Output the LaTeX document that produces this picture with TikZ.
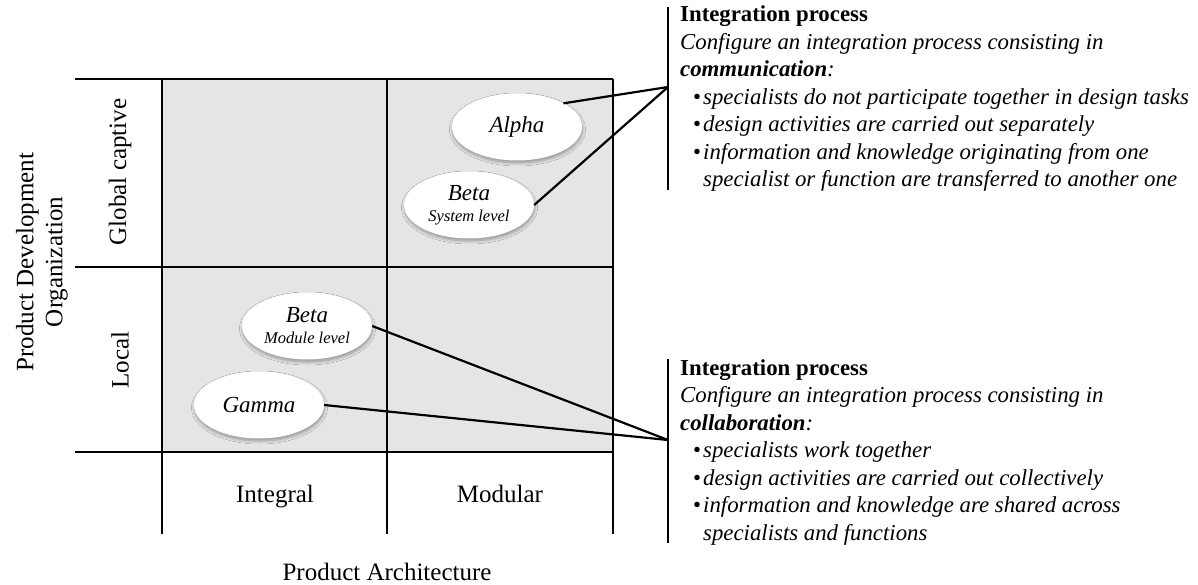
\documentclass[tikz,border=0pt]{standalone}
\usepackage{fontspec}
\setmainfont{Liberation Serif}
\usetikzlibrary{shapes.geometric,shadows.blur}
\definecolor{cellgray}{RGB}{229,229,229}
\newcommand\notefont{\fontsize{22.8}{27.5}\selectfont}
\newcommand\bul{\makebox[10pt][l]{\upshape\textbullet}}
\newcommand\sublabel{\fontsize{16.5}{18}\selectfont}
\begin{document}
\begin{tikzpicture}[x=1pt,y=-1pt,
  gridline/.style={line width=1.4pt},
  axislabel/.style={font=\fontsize{25}{29}\selectfont, inner sep=0},
  blob/.style={ellipse, fill=white, minimum width=130pt, minimum height=67pt,
    inner sep=0, align=center, font=\fontsize{23}{21}\selectfont\itshape,
    blur shadow={shadow xshift=0.5pt, shadow yshift=-2.5pt, shadow blur radius=3pt,
      shadow blur steps=8, shadow opacity=35}},
  link/.style={line width=2.2pt},
  bar/.style={line width=2.4pt},
  note/.style={anchor=base west, inner sep=0, font=\notefont\itshape},
  head/.style={anchor=base west, inner sep=0, font=\notefont\bfseries}]
\useasboundingbox (0,0) rectangle (1198,585);

% shaded 2x2 matrix
\fill[cellgray] (162,79) rectangle (613,452);
\draw[gridline] (75,79) -- (613,79);
\draw[gridline] (75,267) -- (613,267);
\draw[gridline] (75,452) -- (613,452);
\draw[gridline] (162,79) -- (162,534);
\draw[gridline] (387,79) -- (387,534);
\draw[gridline] (613,79) -- (613,534);

% axis labels
\node[axislabel, rotate=90] (gc) at (120,172) {Global captive};
\node[axislabel, rotate=90] (loc) at (120,360) {Local};
\node[axislabel, rotate=90, align=center] (pdo) at (42,262) {Product Development\\Organization};
\node[axislabel, anchor=base] (integral) at (275,502) {Integral};
\node[axislabel, anchor=base] (modular) at (500,502) {Modular};
\node[axislabel, anchor=base] (pa) at (387,580) {Product Architecture};

% cases
\node[blob] (alpha) at (517,127) {Alpha};
\node[blob] (betasys) at (469,205) {Beta\\{\sublabel System level}};
\node[blob] (betamod) at (307,326) {Beta\\{\sublabel Module level}};
\node[blob] (gamma) at (259,405) {Gamma};

% brackets and their hubs
\coordinate (barAtop) at (668,7);
\coordinate (barAbot) at (668,190);
\coordinate (hubA) at (668,87);
\coordinate (barBtop) at (668,359);
\coordinate (barBbot) at (668,543);
\coordinate (hubB) at (668,440);
\draw[bar] (barAtop) -- (barAbot);
\draw[bar] (barBtop) -- (barBbot);

% connectors
\draw[link] (alpha.27) -- (hubA);
\draw[link] (betasys.east) -- (hubA);
\draw[link] (betamod.east) -- (hubB);
\draw[link] (gamma.east) -- (hubB);

% communication block
\node[head] (a1) at (680,22) {Integration process};
\node[note] (a2) at (680,49.5) {Configure an integration process consisting in};
\node[note] (a3) at (680,77) {\textbf{communication}:};
\node[note] (a4) at (693,104.5) {\bul specialists do not participate together in design tasks};
\node[note] (a5) at (693,132) {\bul design activities are carried out separately};
\node[note] (a6) at (693,159.5) {\bul information and knowledge originating from one};
\node[note] (a7) at (703,187) {specialist or function are transferred to another one};

% collaboration block
\node[head] (b1) at (680,375) {Integration process};
\node[note] (b2) at (680,402.5) {Configure an integration process consisting in};
\node[note] (b3) at (680,430) {\textbf{collaboration}:};
\node[note] (b4) at (693,457.5) {\bul specialists work together};
\node[note] (b5) at (693,485) {\bul design activities are carried out collectively};
\node[note] (b6) at (693,512.5) {\bul information and knowledge are shared across};
\node[note] (b7) at (703,540) {specialists and functions};
\end{tikzpicture}
\end{document}
